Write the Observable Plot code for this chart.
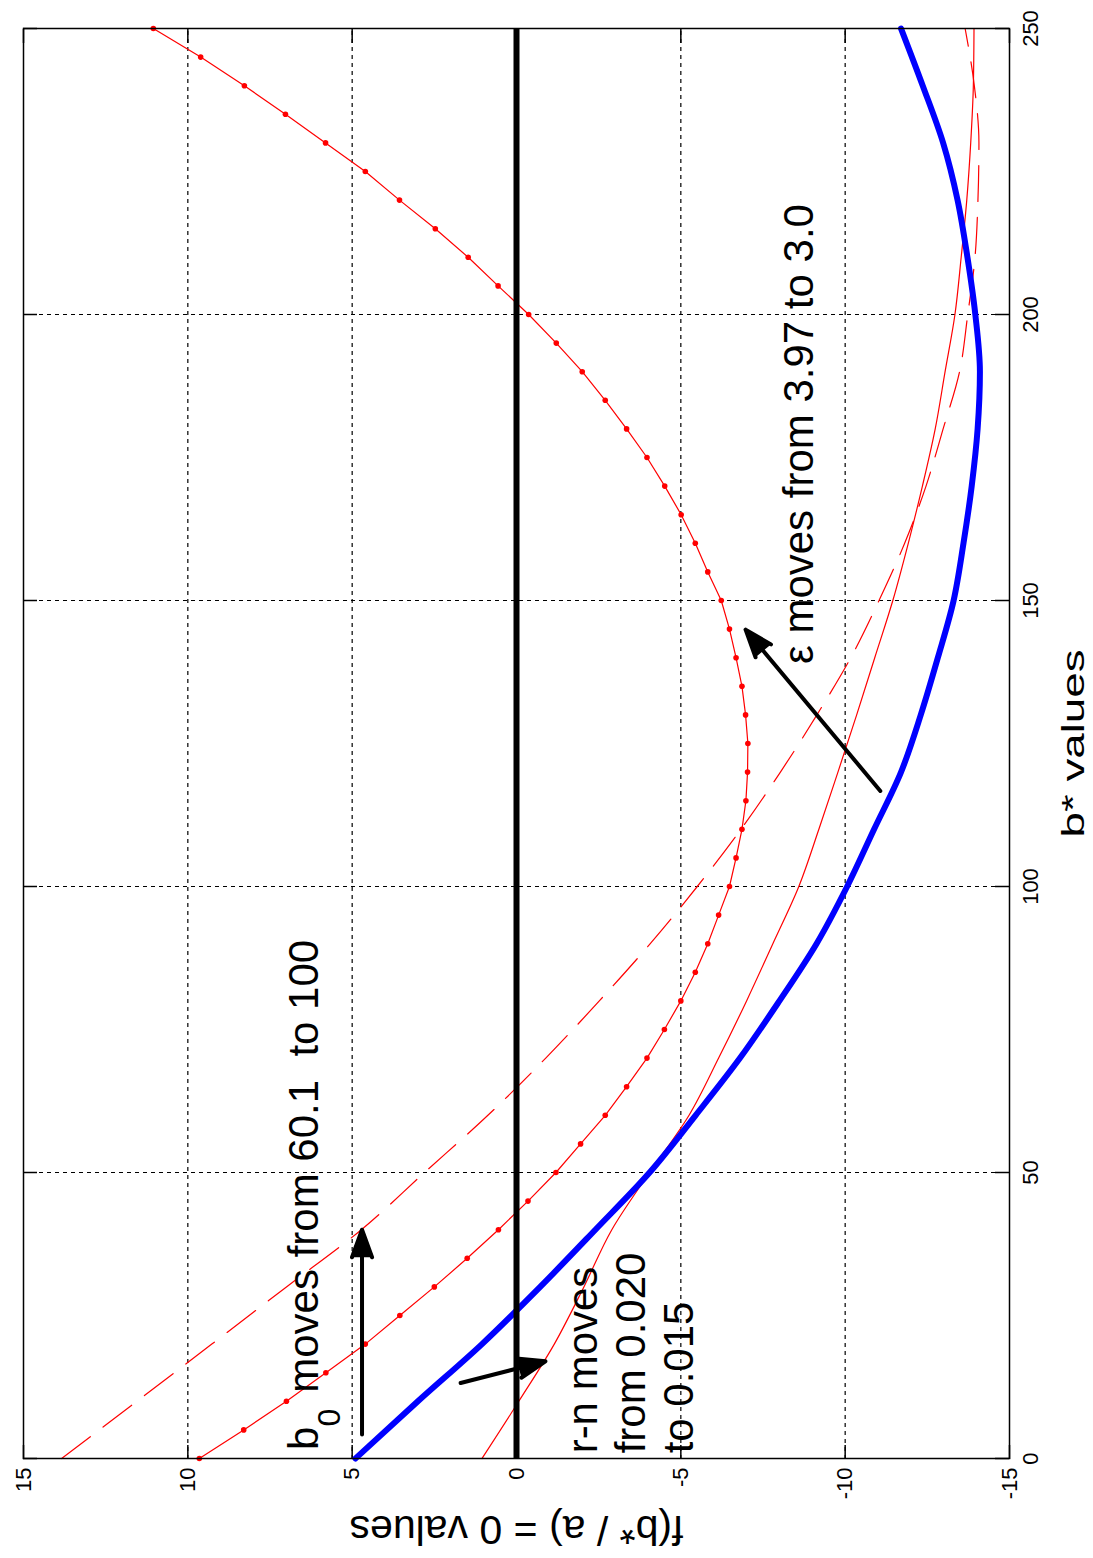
<!DOCTYPE html>
<html>
<head>
<meta charset="utf-8">
<script src="https://cdn.jsdelivr.net/npm/d3@7"></script>
<script src="https://cdn.jsdelivr.net/npm/@observablehq/plot@0.6"></script>
<style>
html, body { margin: 0; padding: 0; background: #fff; overflow: hidden; width: 1093px; height: 1558px; }
#chart { position: absolute; left: 0; top: 0; width: 1558px; height: 1093px;
  transform-origin: 0 0; transform: translate(0px, 1558px) rotate(-90deg); }
</style>
</head>
<body>
<div id="chart"></div>
<script>
// ---------- data ----------
const bStep10 = [0,10,20,30,40,50,60,70,80,90,100,110,120,130,140,150,160,170,180,190,200,210,220,230,240,250];
const blueF   = [4.9,3.0,1.05,-0.72,-2.4,-4.05,-5.45,-6.8,-8.0,-9.13,-10.06,-10.88,-11.7,-12.3,-12.82,-13.3,-13.6,-13.85,-14.03,-14.1,-13.96,-13.72,-13.42,-12.98,-12.36,-11.7];
const dashedF = [13.84,11.55,9.27,7.0,4.72,2.8,0.87,-0.89,-2.52,-4.07,-5.5,-6.83,-8.03,-9.14,-10.17,-11.03,-11.81,-12.46,-12.98,-13.48,-13.73,-13.95,-14.04,-14.07,-13.93,-13.65];
const solidF  = [1.05,-0.07,-1.15,-2.05,-2.9,-4.05,-5.25,-6.15,-7.0,-7.8,-8.59,-9.2,-9.78,-10.35,-10.9,-11.45,-11.92,-12.35,-12.74,-13.04,-13.34,-13.53,-13.7,-13.82,-13.9,-13.92];

const bStep5 = [0,5,10,15,20,25,30,35,40,45,50,55,60,65,70,75,80,85,90,95,100,105,110,115,120,125,130,135,140,145,150,155,160,165,170,175,180,185,190,195,200,205,210,215,220,225,230,235,240,245,250];
const dottedF = [9.65,8.3,7.0,5.8,4.6,3.55,2.5,1.5,0.55,-0.35,-1.2,-1.95,-2.7,-3.35,-3.97,-4.5,-5.0,-5.44,-5.82,-6.15,-6.48,-6.68,-6.86,-6.98,-7.03,-7.04,-6.97,-6.86,-6.68,-6.48,-6.23,-5.82,-5.44,-5.01,-4.51,-3.97,-3.35,-2.7,-2.0,-1.21,-0.37,0.56,1.47,2.47,3.56,4.6,5.81,7.03,8.28,9.61,11.05];

const xTicks = [0,50,100,150,200,250];
const yTicks = [-15,-10,-5,0,5,10,15];
const xLabel = "b* values";
const yLabel = "f(b* / a) = 0 values";

const noteText = ["b", "moves from 60.1\u00a0 to 100", "\u03b5 moves from 3.97 to 3.0", "r-n moves\nfrom 0.020\nto 0.015"];
const noteB = [1.5, 11.5, 138.9, 0.9];
const noteF = [6.03, 6.03, -9.03, -5.38];
const subText = ["0"];
const subB = [5.6];
const subF = [5.36];

const arrowB1 = [4.2, 13.2, 116.7];
const arrowF1 = [4.70, 1.70, -11.07];
const arrowB2 = [40.0, 17.0, 144.9];
const arrowF2 = [4.70, -0.88, -6.97];

// ---------- tables ----------
const curves = bStep10.map((b, i) => ({b, blue: blueF[i], dashed: dashedF[i], solid: solidF[i]}));
const dotted = bStep5.map((b, i) => ({b, f: dottedF[i]}));
const notes = noteText.map((t, i) => ({t, b: noteB[i], f: noteF[i]}));
const subs = subText.map((t, i) => ({t, b: subB[i], f: subF[i]}));
const arrows = arrowB1.map((b, i) => ({b1: b, f1: arrowF1[i], b2: arrowB2[i], f2: arrowF2[i]}));

// ---------- layout ----------
const W = 1558, H = 1093, mL = 99, mR = 29, mT = 23, mB = 84;
const tickPx = 14;
const tickF = tickPx / ((H - mT - mB) / 30);
const tickB = tickPx / ((W - mL - mR) / 250);
const gridX = xTicks.slice(1, -1), gridY = yTicks.slice(1, -1);

const plot = Plot.plot({
  width: W, height: H,
  marginLeft: mL, marginRight: mR, marginTop: mT, marginBottom: mB,
  style: {fontFamily: "'Liberation Sans', Arial, sans-serif", fontSize: "22px", background: "#fff", color: "#000", overflow: "visible"},
  x: {domain: [0, 250], ticks: xTicks, tickSize: 0, tickPadding: 13, label: null, tickFormat: d => String(d)},
  y: {domain: [-15, 15], ticks: yTicks, tickSize: 0, tickPadding: 9, label: null, tickFormat: d => String(d)},
  marks: [
    Plot.ruleX(gridX, {x: d => d, stroke: "#000", strokeWidth: 1.2, strokeDasharray: "4,4"}),
    Plot.ruleY(gridY, {y: d => d, stroke: "#000", strokeWidth: 1.2, strokeDasharray: "4,4"}),
    Plot.ruleX(xTicks, {x: d => d, y1: -15, y2: -15 + tickF, stroke: "#000", strokeWidth: 1.5}),
    Plot.ruleX(xTicks, {x: d => d, y1: 15, y2: 15 - tickF, stroke: "#000", strokeWidth: 1.5}),
    Plot.ruleY(yTicks, {y: d => d, x1: 0, x2: tickB, stroke: "#000", strokeWidth: 1.5}),
    Plot.ruleY(yTicks, {y: d => d, x1: 250, x2: 250 - tickB, stroke: "#000", strokeWidth: 1.5}),
    Plot.line(curves, {x: "b", y: "dashed", stroke: "#ff0000", strokeWidth: 1.2, strokeDasharray: "36,16", curve: "monotone-x"}),
    Plot.line(curves, {x: "b", y: "solid", stroke: "#ff0000", strokeWidth: 1.2, curve: "monotone-x"}),
    Plot.line(dotted, {x: "b", y: "f", stroke: "#ff0000", strokeWidth: 1.2}),
    Plot.dot(dotted, {x: "b", y: "f", r: 2.8, fill: "#ff0000"}),
    Plot.line(curves, {x: "b", y: "blue", stroke: "#0000ff", strokeWidth: 6, curve: "monotone-x"}),
    Plot.ruleY([0], {stroke: "#000", strokeWidth: 6}),
    Plot.frame({stroke: "#000", strokeWidth: 1.5}),
    Plot.arrow(arrows, {x1: "b1", y1: "f1", x2: "b2", y2: "f2", stroke: "#000", fill: "#000", strokeWidth: 4, headLength: 11, headAngle: 40, strokeLinejoin: "round"}),
    Plot.text(notes, {x: "b", y: "f", text: "t", fontSize: 42, textAnchor: "start", lineAnchor: "bottom", lineHeight: 1.148, fill: "#000"}),
    Plot.text(subs, {x: "b", y: "f", text: "t", fontSize: 32, textAnchor: "start", lineAnchor: "bottom", fill: "#000"}),
    Plot.text([xLabel], {frameAnchor: "bottom", dy: 74, textAnchor: "middle", lineAnchor: "bottom", fontSize: 32, fill: "#000"}),
    Plot.text([yLabel], {frameAnchor: "left", dx: -71, rotate: -90, textAnchor: "middle", lineAnchor: "middle", fontSize: 41, fill: "#000"})
  ]
});

plot.querySelectorAll("text").forEach(t => {
  if (t.textContent === xLabel) {
    t.setAttribute("textLength", "188");
    t.setAttribute("lengthAdjust", "spacingAndGlyphs");
  }
});
document.getElementById("chart").appendChild(plot);
</script>
</body>
</html>
